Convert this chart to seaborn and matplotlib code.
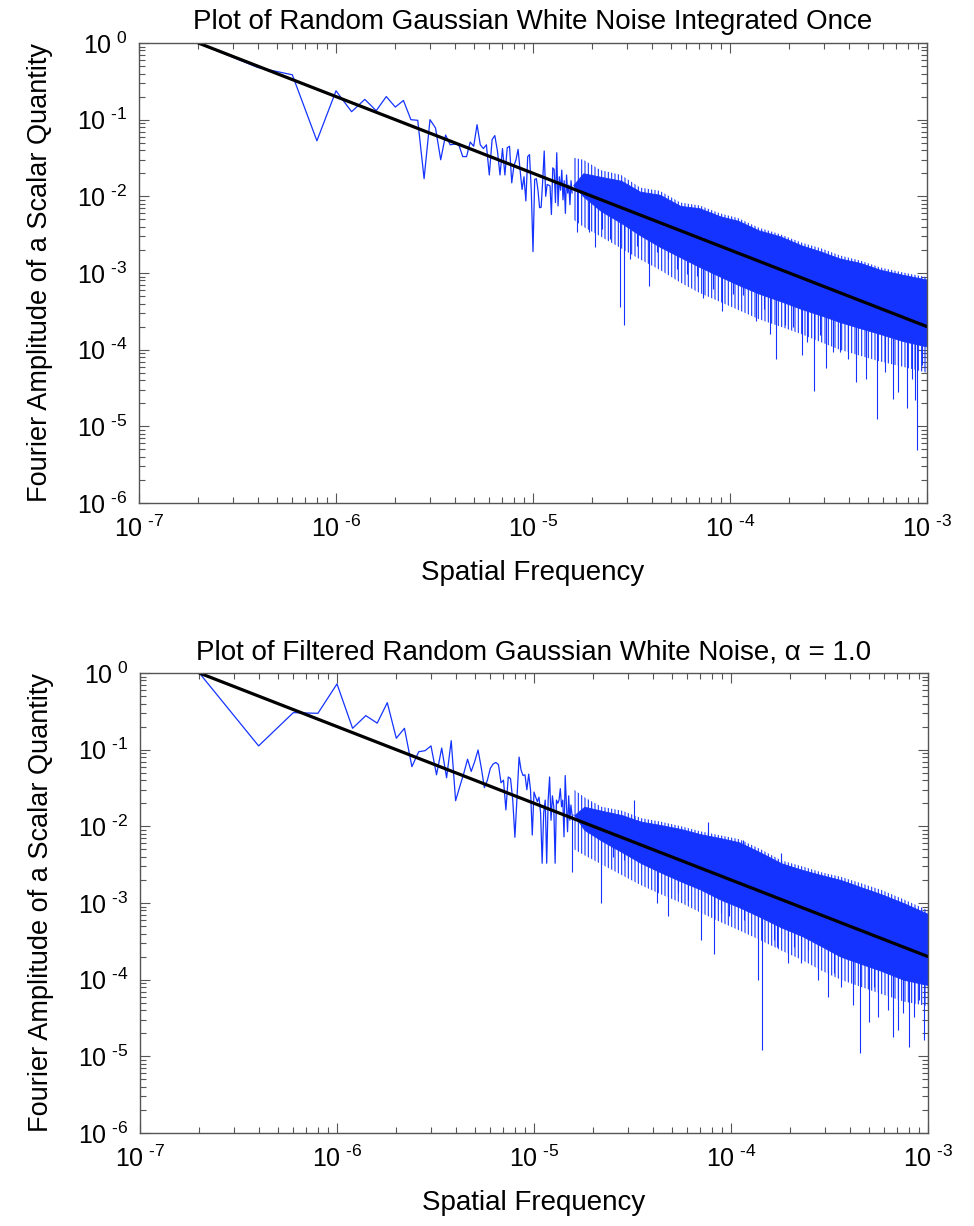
import numpy as np
import matplotlib
matplotlib.use("Agg")
import matplotlib.pyplot as plt
import seaborn as sns
from matplotlib.ticker import LogLocator, FuncFormatter, NullFormatter

# frequency spacing of the spectrum (first sample at 2e-7)
df_step = 2e-7

# low frequency samples, read point by point
top_amp = [1.0, 0.48, 0.385, 0.053, 0.238, 0.127, 0.184, 0.131, 0.20, 0.146,
           0.178, 0.10, 0.098, 0.017, 0.10, 0.078, 0.030, 0.063, 0.047, 0.048,
           0.047, 0.033, 0.033, 0.051, 0.045, 0.086, 0.047, 0.042, 0.047, 0.019,
           0.055, 0.062, 0.039, 0.019, 0.042, 0.019, 0.043, 0.045, 0.015, 0.025,
           0.030, 0.041, 0.022, 0.0123, 0.018, 0.0087, 0.033, 0.035, 0.012, 0.0019,
           0.0166, 0.017, 0.012, 0.0071, 0.0072, 0.016, 0.039, 0.010, 0.0143, 0.014,
           0.0137, 0.0058, 0.0235, 0.0225, 0.0083, 0.037, 0.0075, 0.018, 0.012, 0.022,
           0.009, 0.016, 0.006, 0.019, 0.011, 0.014, 0.0078, 0.016, 0.011]
bot_amp = [1.0, 0.112, 0.304, 0.298, 0.72, 0.19, 0.278, 0.222, 0.41, 0.141,
           0.19, 0.060, 0.094, 0.097, 0.112, 0.047, 0.105, 0.043, 0.131, 0.0216,
           0.033, 0.049, 0.075, 0.052, 0.070, 0.099, 0.058, 0.032, 0.040, 0.057,
           0.065, 0.068, 0.064, 0.037, 0.040, 0.0164, 0.044, 0.042, 0.022, 0.0072,
           0.024, 0.080, 0.054, 0.046, 0.047, 0.030, 0.048, 0.030, 0.0077, 0.028,
           0.024, 0.021, 0.024, 0.015, 0.0033, 0.015, 0.022, 0.0033, 0.022, 0.044,
           0.012, 0.025, 0.018, 0.0033, 0.022, 0.020, 0.022, 0.031, 0.018, 0.022,
           0.0073, 0.046, 0.020, 0.0085, 0.025, 0.012, 0.019, 0.014, 0.014]

# dense high frequency part: outer (striped) and inner (solid) edges of the band
band_f = [1.6e-5, 1.8e-5, 2.2e-5, 2.8e-5, 3.5e-5, 4.4e-5, 5.6e-5, 7e-5, 8.9e-5, 1.1e-4,
          1.4e-4, 1.8e-4, 2.3e-4, 2.9e-4, 3.6e-4, 4.6e-4, 5.8e-4, 7.5e-4, 1e-3]
top_outer_hi = [0.032, 0.030, 0.022, 0.019, 0.013, 0.0118, 0.0083, 0.0076, 0.0060, 0.0052,
                0.0039, 0.0032, 0.0025, 0.0021, 0.0017, 0.00145, 0.00118, 0.00102, 0.00088]
top_core_hi = [0.014, 0.020, 0.018, 0.016, 0.0115, 0.0105, 0.0075, 0.0070, 0.0055, 0.0048,
               0.0036, 0.0030, 0.0023, 0.0019, 0.00155, 0.00135, 0.0011, 0.00095, 0.00082]
top_core_lo = [0.014, 0.010, 0.0065, 0.0045, 0.0031, 0.0022, 0.0016, 0.0012, 0.0009, 0.0007,
               0.00054, 0.00043, 0.00034, 0.00028, 0.00023, 0.00019, 0.00016, 0.00013, 0.00011]
top_outer_lo = [0.005, 0.004, 0.003, 0.0021, 0.0015, 0.0011, 0.00075, 0.00055, 0.00042, 0.00033,
                0.00025, 0.0002, 0.00016, 0.000125, 0.0001, 0.000083, 0.00007, 0.00006, 0.00005]
bot_outer_hi = [0.030, 0.024, 0.018, 0.016, 0.0128, 0.0115, 0.0100, 0.0086, 0.0076, 0.0068,
                0.0051, 0.0036, 0.0030, 0.0025, 0.0022, 0.0018, 0.00148, 0.00112, 0.00080]
bot_core_hi = [0.014, 0.018, 0.016, 0.014, 0.0115, 0.0104, 0.0092, 0.0079, 0.0070, 0.0062,
               0.0046, 0.0033, 0.0027, 0.0023, 0.0020, 0.0016, 0.0013, 0.0010, 0.00072]
bot_core_lo = [0.014, 0.009, 0.0065, 0.0046, 0.0033, 0.0025, 0.0019, 0.0015, 0.0011, 0.00088,
               0.00066, 0.00048, 0.00037, 0.00027, 0.0002, 0.00016, 0.00013, 0.0001, 0.000085]
bot_outer_lo = [0.005, 0.0042, 0.0032, 0.0023, 0.0017, 0.0013, 0.001, 0.00075, 0.00056, 0.00044,
                0.00033, 0.00024, 0.00018, 0.00013, 0.0001, 0.00008, 0.000065, 0.000052, 0.000045]

# isolated spikes sticking out of the band
top_spike_f = [1.67e-5, 1.93e-5, 2.07e-5, 2.23e-5, 2.46e-5, 2.76e-5, 2.90e-5, 3.11e-5, 3.38e-5, 3.90e-5,
               4.28e-5, 4.86e-5, 5.36e-5, 6.03e-5, 6.77e-5, 7.32e-5, 8.23e-5, 9.07e-5, 1.04e-4, 1.17e-4,
               1.35e-4, 1.48e-4, 1.60e-4, 1.72e-4, 1.90e-4, 2.10e-4, 2.31e-4, 2.45e-4, 2.67e-4, 2.86e-4,
               3.07e-4, 3.35e-4, 3.62e-4, 3.99e-4, 4.36e-4, 4.90e-4, 5.60e-4, 6.12e-4, 6.69e-4, 7.15e-4,
               7.88e-4, 8.36e-4, 8.69e-4, 8.93e-4, 9.39e-4]
top_spike_amp = [3.4e-3, 3.4e-3, 2.16e-3, 3.7e-3, 2.77e-3, 3.6e-4, 2.1e-4, 1.52e-3, 2.26e-3, 6.7e-4,
                 1.86e-3, 1.52e-3, 1.13e-3, 9.7e-4, 9.2e-4, 4.7e-4, 6.2e-4, 3.2e-4, 5.3e-4, 5.1e-4,
                 2.4e-4, 3.4e-4, 1.61e-4, 7.6e-5, 2.07e-4, 1.97e-4, 8.4e-5, 1.26e-4, 2.9e-5, 1.54e-4,
                 5.7e-5, 9.3e-5, 9.3e-5, 7.6e-5, 3.8e-5, 4.2e-5, 1.24e-5, 5.1e-5, 2.26e-5, 2.8e-5,
                 1.75e-5, 4.2e-5, 2.2e-5, 4.9e-6, 6.3e-5]
bot_spike_f = [1.56e-5, 1.94e-5, 2.19e-5, 2.51e-5, 2.87e-5, 3.23e-5, 3.78e-5, 4.21e-5, 4.77e-5, 5.36e-5,
               6.03e-5, 7.04e-5, 7.6e-5, 8.17e-5, 8.9e-5, 9.8e-5, 1.15e-4, 1.17e-4, 1.37e-4, 1.43e-4,
               1.66e-4, 1.72e-4, 1.8e-4, 1.94e-4, 2.10e-4, 2.27e-4, 2.45e-4, 2.75e-4, 3.10e-4, 3.35e-4,
               3.62e-4, 4.14e-4, 4.53e-4, 5.04e-4, 5.34e-4, 5.55e-4, 6.24e-4, 6.62e-4, 7.01e-4, 7.43e-4,
               8.04e-4, 8.52e-4, 9.03e-4, 9.58e-4]
bot_spike_amp = [2.57e-3, 0.020, 1.01e-3, 4.0e-3, 3.6e-3, 0.0221, 3.8e-3, 9.9e-4, 6.7e-4, 1.34e-3,
                 1.1e-3, 3.3e-4, 0.0115, 2.17e-4, 7.3e-4, 6.7e-4, 0.0066, 6.0e-4, 9.9e-5, 1.2e-5,
                 3.3e-4, 2.7e-4, 0.0045, 1.64e-4, 2.7e-4, 1.64e-4, 2.44e-4, 9.9e-5, 6.0e-5, 1.21e-4,
                 8.1e-5, 4.7e-5, 1.12e-5, 2.84e-5, 8.1e-5, 3.3e-5, 4.0e-5, 1.78e-5, 2.2e-5, 3.7e-5,
                 1.34e-5, 3.3e-5, 5.4e-5, 1.64e-5]

# black power law reference line (end points)
line_f = [2e-7, 1e-3]
line_amp = [1.0, 2e-4]

titles = ["Plot of Random Gaussian White Noise Integrated Once",
          "Plot of Filtered Random Gaussian White Noise, \u03b1 = 1.0"]

sns.set_style("ticks")
plt.rcParams["font.family"] = ["Liberation Sans", "DejaVu Sans"]
plt.rcParams["mathtext.fontset"] = "custom"
plt.rcParams["mathtext.rm"] = "Liberation Sans"
plt.rcParams["text.color"] = "black"
plt.rcParams["axes.labelcolor"] = "black"
plt.rcParams["hatch.linewidth"] = 0.8

blue = "#1433ff"
grey = "#555555"


def pow10(v, pos):
    e = int(round(np.log10(v)))
    s = ("\u2010%d" % -e) if e < 0 else "%d" % e
    return r"$\mathregular{10^{\ %s}}$" % s


def panel(ax, amp, ohi, chi, clo, olo, sp_f, sp_amp, title):
    ax.set_xscale("log")
    ax.set_yscale("log")
    f = df_step * np.arange(1, len(amp) + 1)
    sns.lineplot(x=f, y=amp, ax=ax, color=blue, lw=0.9, sort=False, estimator=None)
    ax.fill_between(band_f, olo, ohi, facecolor="none", edgecolor=blue,
                    hatch="|||||", lw=0)
    ax.fill_between(band_f, clo, chi, color=blue, lw=0.6)
    mid = 10 ** np.interp(np.log10(sp_f), np.log10(band_f),
                          (np.log10(chi) + np.log10(clo)) / 2)
    ax.vlines(sp_f, sp_amp, mid, color=blue, lw=0.8)
    sns.lineplot(x=line_f, y=line_amp, ax=ax, color="black", lw=2.3)
    ax.set_xlim(1e-7, 1e-3)
    ax.set_ylim(1e-6, 1)
    for a in (ax.xaxis, ax.yaxis):
        a.set_major_locator(LogLocator(base=10, numticks=10))
        a.set_minor_locator(LogLocator(base=10, subs=np.arange(2, 10), numticks=10))
        a.set_major_formatter(FuncFormatter(pow10))
        a.set_minor_formatter(NullFormatter())
    ax.tick_params(which="both", direction="in", top=True, right=True,
                   color=grey, width=0.8, labelsize=18, labelcolor="black")
    ax.tick_params(which="major", length=7)
    ax.tick_params(which="minor", length=4)
    ax.tick_params(axis="x", pad=9)
    ax.tick_params(axis="y", pad=8)
    for s in ax.spines.values():
        s.set_color(grey)
        s.set_linewidth(1.0)
    ax.set_title(title, fontsize=20, pad=10)
    ax.set_xlabel("Spatial Frequency", fontsize=20, labelpad=13)
    ax.set_ylabel("Fourier Amplitude of a Scalar Quantity", fontsize=19.5, labelpad=17)


fig = plt.figure(figsize=(9.74, 12.26), dpi=100)
ax1 = fig.add_axes([139 / 974, 1 - 503 / 1226, 788 / 974, 460 / 1226])
ax2 = fig.add_axes([140 / 974, 1 - 1133 / 1226, 788 / 974, 460 / 1226])

panel(ax1, top_amp, top_outer_hi, top_core_hi, top_core_lo, top_outer_lo,
      top_spike_f, top_spike_amp, titles[0])
panel(ax2, bot_amp, bot_outer_hi, bot_core_hi, bot_core_lo, bot_outer_lo,
      bot_spike_f, bot_spike_amp, titles[1])

fig.savefig("out.png", dpi=100)
